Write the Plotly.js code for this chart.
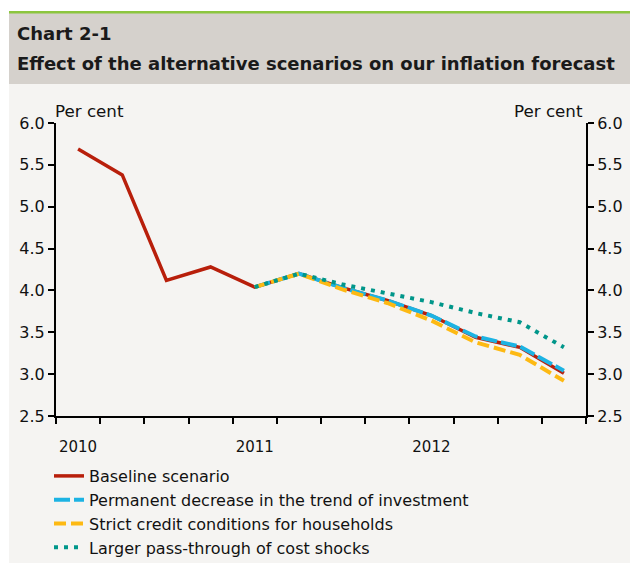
<!DOCTYPE html>
<html>
<head>
<meta charset="utf-8">
<script src="https://cdn.plot.ly/plotly-3.0.1.min.js"></script>
<style>
html,body{margin:0;padding:0;background:#ffffff;}
#chart{width:630px;height:565px;}
</style>
</head>
<body>
<div id="chart"></div>
<script>
// ---- data ----
var quarters = ['2010Q1','2010Q2','2010Q3','2010Q4','2011Q1','2011Q2','2011Q3','2011Q4','2012Q1','2012Q2','2012Q3','2012Q4'];
var baseline   = [5.69, 5.38, 4.12, 4.28, 4.04, 4.20, 4.03, 3.88, 3.70, 3.44, 3.32, 3.01];
var investment = [null, null, null, null, 4.04, 4.20, 4.03, 3.88, 3.70, 3.45, 3.33, 3.04];
var credit     = [null, null, null, null, 4.04, 4.20, 4.01, 3.85, 3.64, 3.38, 3.23, 2.92];
var passThrough= [null, null, null, null, 4.04, 4.20, 4.07, 3.97, 3.86, 3.73, 3.62, 3.32];
var seriesNames = ['Baseline scenario','Permanent decrease in the trend of investment','Strict credit conditions for households','Larger pass-through of cost shocks'];
var yTicks = [2.5, 3.0, 3.5, 4.0, 4.5, 5.0, 5.5, 6.0];

// positions: centre of each quarter
var xs = quarters.map(function(q,i){return i+0.5;});
var boundaries = quarters.map(function(q,i){return i;}).concat([quarters.length]);
var yearPos = [], yearText = [];
quarters.forEach(function(q,i){ if(q.slice(4)==='Q1'){ yearPos.push(i+0.5); yearText.push(q.slice(0,4)); } });

var W=630,H=565, L=56, R=586, T=123, B=416;
function px(x){return (x-L)/(R-L);}
function py(y){return (B-y)/(B-T);}

var FONT = 'DejaVu Sans, sans-serif';
var traces = [
  {x:xs, y:baseline, name:seriesNames[0], mode:'lines', line:{color:'#b81f0b', width:3.5}},
  {x:xs, y:investment, name:seriesNames[1], mode:'lines', line:{color:'#1cb3e3', width:4, dash:'16px,4px'}},
  {x:xs, y:credit, name:seriesNames[2], mode:'lines', line:{color:'#fdb913', width:4, dash:'12px,5px'}},
  {x:xs, y:passThrough, name:seriesNames[3], mode:'lines', line:{color:'#00968a', width:4, dash:'4px,6px'}}
];

var layout = {
  width:W, height:H,
  margin:{l:L, r:W-R, t:T, b:H-B, pad:0, autoexpand:false},
  paper_bgcolor:'#ffffff',
  plot_bgcolor:'rgba(0,0,0,0)',
  font:{family:FONT, size:15, color:'#111111'},
  showlegend:true,
  legend:{xref:'container', yref:'container', x:49/W, y:1-459/H, xanchor:'left', yanchor:'top', bgcolor:'rgba(0,0,0,0)',
          font:{family:FONT, size:16, color:'#111111'}, tracegroupgap:0},
  xaxis:{range:[0,quarters.length], tickmode:'array', tickvals:boundaries, showticklabels:false,
         ticks:'outside', ticklen:6, tickwidth:2, tickcolor:'#000', showline:true, linecolor:'#000', linewidth:2,
         showgrid:false, zeroline:false, fixedrange:true},
  xaxis2:{overlaying:'x', matches:'x', range:[0,quarters.length], tickmode:'array', tickvals:yearPos, ticktext:yearText,
          ticks:'outside', ticklen:17, tickcolor:'rgba(0,0,0,0)', showline:false, showgrid:false, zeroline:false, side:'bottom', anchor:'y',
          tickfont:{family:FONT, size:15, color:'#111'}},
  yaxis:{range:[2.5,6.0], tickmode:'array', tickvals:yTicks, tickformat:'.1f', ticks:'outside', ticklen:6, tickwidth:2, tickcolor:'#000',
         showline:true, linecolor:'#000', linewidth:2, showgrid:false, zeroline:false, fixedrange:true,
         tickfont:{family:FONT, size:16, color:'#111'}},
  yaxis2:{overlaying:'y', side:'right', range:[2.5,6.0], tickmode:'array', tickvals:yTicks, tickformat:'.1f', ticks:'outside', ticklen:6, tickwidth:2, tickcolor:'#000',
          showline:true, linecolor:'#000', linewidth:2, showgrid:false, zeroline:false, anchor:'x',
          tickfont:{family:FONT, size:16, color:'#111'}},
  shapes:[
    {type:'rect', xref:'paper', yref:'paper', x0:px(9), x1:px(640), y0:py(84), y1:py(563), fillcolor:'#f5f4f2', line:{width:0}, layer:'below'},
    {type:'rect', xref:'paper', yref:'paper', x0:px(9), x1:px(640), y0:py(13), y1:py(84), fillcolor:'#d5d1cc', line:{width:0}, layer:'below'},
    {type:'rect', xref:'paper', yref:'paper', x0:px(9), x1:px(640), y0:py(11), y1:py(13.5), fillcolor:'#8cc63f', line:{width:0}, layer:'below'}
  ],
  annotations:[
    {text:'<b>Chart 2-1</b>', xref:'paper', yref:'paper', x:px(15), y:py(33), xanchor:'left', yanchor:'middle', showarrow:false, font:{family:FONT, size:18, color:'#1a1a1a'}},
    {text:'<b>Effect of the alternative scenarios on our inflation forecast</b>', xref:'paper', yref:'paper', x:px(15), y:py(63), xanchor:'left', yanchor:'middle', showarrow:false, font:{family:FONT, size:18, color:'#1a1a1a'}},
    {text:'Per cent', xref:'paper', yref:'paper', x:px(53), y:py(111), xanchor:'left', yanchor:'middle', showarrow:false, font:{family:FONT, size:16.7, color:'#111'}},
    {text:'Per cent', xref:'paper', yref:'paper', x:px(585), y:py(111), xanchor:'right', yanchor:'middle', showarrow:false, font:{family:FONT, size:16.7, color:'#111'}}
  ]
};
// dummy trace so secondary axes render
traces.push({x:[xs[0]], y:[null], xaxis:'x2', yaxis:'y2', showlegend:false, hoverinfo:'skip', mode:'lines'});

Plotly.newPlot('chart', traces, layout, {staticPlot:true, displayModeBar:false});
</script>
</body>
</html>
